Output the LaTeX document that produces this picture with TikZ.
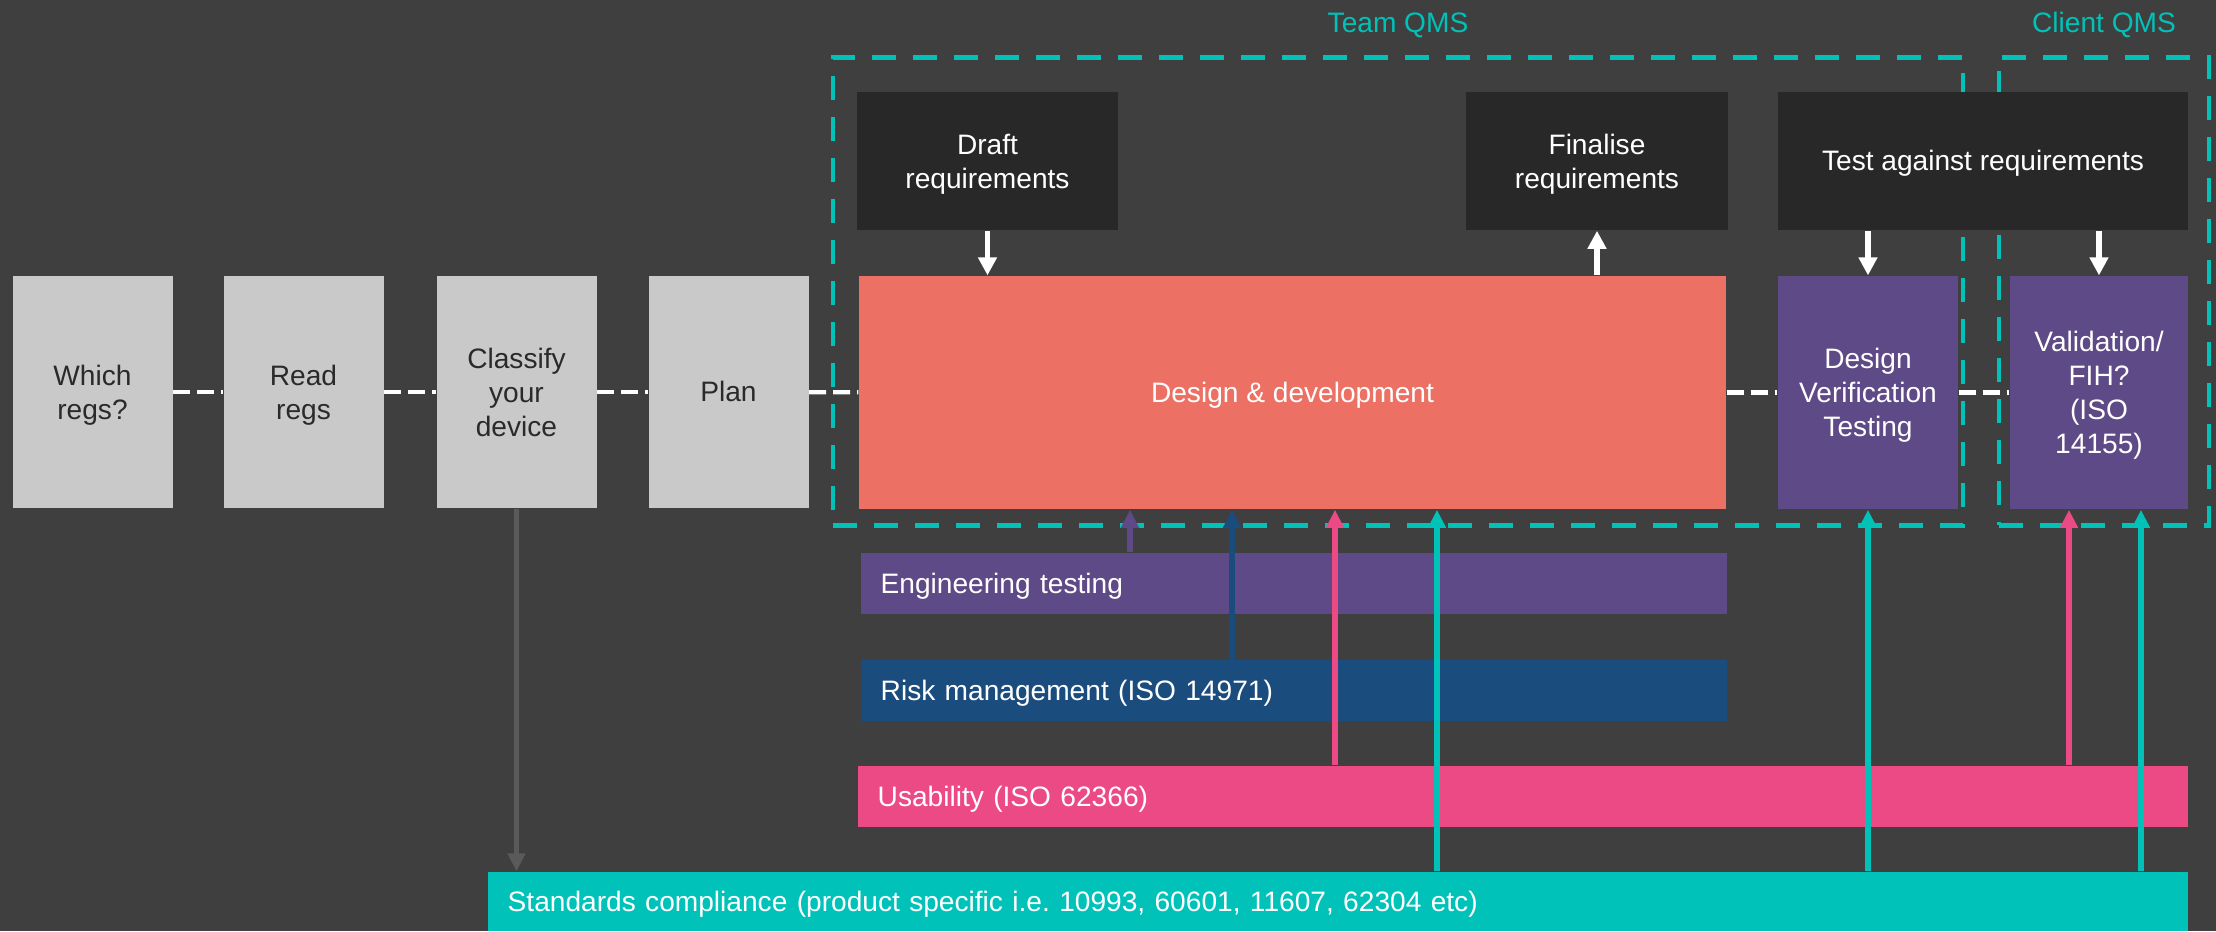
\documentclass[tikz,border=0pt]{standalone}
\usepackage{fontspec}
\setmainfont{Liberation Sans}
\usetikzlibrary{arrows.meta,positioning,calc}
\frenchspacing

\definecolor{bgdark}{HTML}{3F3F3F}
\definecolor{stagegray}{HTML}{C9C9C9}
\definecolor{stagetext}{HTML}{2A2A2A}
\definecolor{taskdark}{HTML}{282828}
\definecolor{ddsalmon}{HTML}{EC7063}
\definecolor{engpurple}{HTML}{5E4A86}
\definecolor{riskblue}{HTML}{1B4C7E}
\definecolor{usapink}{HTML}{EC4A85}
\definecolor{stdteal}{HTML}{00C2B9}
\definecolor{arrgray}{HTML}{5A5A5A}

\begin{document}
\begin{tikzpicture}[
    font=\fontsize{8pt}{9.7pt}\selectfont,
    txt/.style={execute at begin node={\rule{0pt}{7.2pt}}, text depth=1.7pt},
    multi/.style={text depth=0pt},
    stage/.style={txt, fill=stagegray, text=stagetext, minimum width=1.6cm, minimum height=2.32cm, align=center, inner sep=0pt},
    task/.style={txt, fill=taskdark, text=white, minimum height=1.38cm, align=center},
    phase/.style={txt, text=white, minimum height=2.33cm, align=center, inner sep=1pt},
    bar/.style={txt, text=white, minimum height=0.61cm, inner xsep=0.2cm, inner ysep=0pt, align=left, anchor=west, text width=#1},
    qms/.style={draw=stdteal, dash pattern=on 0.24cm off 0.17cm, line width=1.4pt, minimum height=4.68cm, inner sep=0pt},
    qmslbl/.style={text=stdteal, anchor=base},
    flow/.style={white, line width=1.2pt, dash pattern=on 0.17cm off 0.07cm},
    warr/.style={-{Triangle[length=0.18cm,width=0.18cm]}, white, line width=1.5pt},
    carr/.style={-{Triangle[length=0.18cm,width=0.17cm]}, line width=1.5pt}
]
\fill[bgdark] (0,0) rectangle (22.16,-9.31);

% QMS frames
\node[qms, minimum width=11.30cm] (team) at (13.98,-2.91) {};
\node[qms, minimum width=2.10cm] (client) at (21.04,-2.91) {};
\node[qmslbl] (teamlbl) at (13.98,-0.32) {Team QMS};
\node[qmslbl] (clientlbl) at (21.04,-0.32) {Client QMS};

% main line of stages
\node[stage, multi] (which) at (0.925,-3.92) {Which\\regs?};
\node[stage, multi] (read) at (3.035,-3.92) {Read\\regs};
\node[stage, multi] (classify) at (5.165,-3.92) {Classify\\your\\device};
\node[stage] (plan) at (7.285,-3.92) {Plan};
\node[phase, fill=ddsalmon, minimum width=8.67cm] (dd) at (12.925,-3.925) {Design \& development};
\node[phase, multi, fill=engpurple, minimum width=1.80cm] (dvt) at (18.68,-3.925) {Design\\Verification\\Testing};
\node[phase, multi, fill=engpurple, minimum width=1.78cm] (val) at (20.99,-3.925) {Validation/\\FIH?\\(ISO\\14155)};

% requirements
\node[task, multi, minimum width=2.61cm] (draft) at (9.875,-1.61) {Draft\\requirements};
\node[task, multi, minimum width=2.62cm] (fin) at (15.97,-1.61) {Finalise\\requirements};
\node[task, minimum width=4.10cm] (test) at (19.83,-1.61) {Test against requirements};

% supporting processes
\node[bar=8.26cm, fill=engpurple] (eng) at (8.60,-5.835) {Engineering testing};
\node[bar=8.26cm, fill=riskblue] (risk) at (8.60,-6.905) {Risk management (ISO 14971)};
\node[bar=12.90cm, fill=usapink] (usab) at (8.57,-7.965) {Usability (ISO 62366)};
\node[bar=16.60cm, fill=stdteal, minimum height=0.59cm] (std) at (4.87,-9.015) {Standards compliance (product specific i.e. 10993, 60601, 11607, 62304 etc)};

\foreach \a/\b in {which/read, read/classify, classify/plan, plan/dd, dd/dvt, dvt/val}
    \draw[flow] (\a) -- (\b);

\draw[warr] (draft) -- (draft |- dd.north);
\draw[warr] (fin |- dd.north) -- (fin);
\draw[warr] (test.south -| dvt) -- (dvt);
\draw[warr] (test.south -| val) -- (val);

\foreach \x/\src/\col in {11.30/eng/engpurple, 12.32/risk/riskblue, 13.35/usab/usapink, 14.37/std/stdteal}
    \draw[carr, \col] (\x,0 |- \src.north) -- (\x,0 |- dd.south);
\draw[carr, stdteal] (dvt |- std.north) -- (dvt);
\draw[carr, usapink] (20.69,0 |- usab.north) -- (20.69,0 |- val.south);
\draw[carr, stdteal] (21.41,0 |- std.north) -- (21.41,0 |- val.south);
\draw[carr, arrgray] (classify) -- (classify |- std.north);
\end{tikzpicture}
\end{document}
